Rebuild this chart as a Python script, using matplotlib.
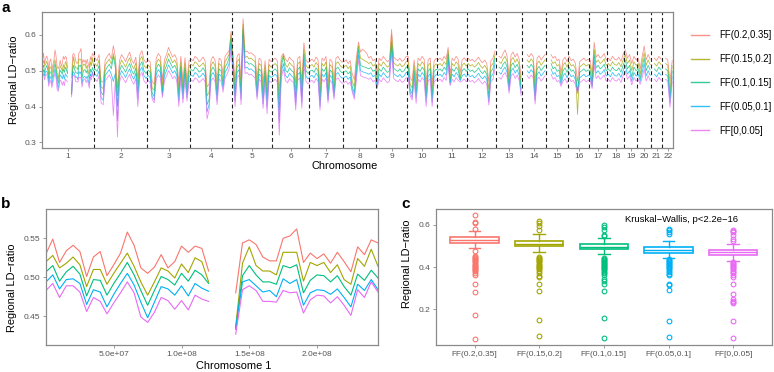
import numpy as np
import matplotlib.pyplot as plt

plt.rcParams['font.family'] = ['Liberation Sans', 'DejaVu Sans']
nan = np.nan

groups = ["FF(0.2,0.35]", "FF(0.15,0.2]", "FF(0.1,0.15]", "FF(0.05,0.1]", "FF[0,0.05]"]
colors = ["#F8766D", "#A3A500", "#00BF7D", "#00B0F6", "#E76BF3"]

# chromosome 1, 5 Mb windows (nan = centromere gap)
chr1_pos = np.arange(0, 246e6, 5e6)
chr1_red = [.530, .549, .519, .534, .541, .533, .501, .526, .533, .502, .516, .531, .558, .541, .512, .505, .513, .529, .512, .520, .540, .532, .540, .537, .508,
            nan, nan, nan,
            .480, .544, .548, .542, .526, .521, .521, .550, .553, .562, .519, .531, .524, .530, .518, .532, .520, .507, .539, .529, .548, .544]
chr1_olive = [.520, .528, .512, .518, .526, .516, .488, .510, .510, .491, .505, .518, .531, .514, .494, .477, .494, .512, .508, .499, .517, .506, .525, .520, .494,
              nan, nan, nan,
              .437, .518, .539, .515, .508, .508, .503, .532, .532, .532, .495, .519, .515, .519, .506, .516, .497, .491, .524, .514, .536, .514]
chr1_green = [.507, .515, .495, .507, .514, .504, .476, .497, .496, .477, .492, .505, .519, .503, .483, .464, .483, .501, .497, .490, .505, .495, .509, .503, .492,
              nan, nan, nan,
              .435, .502, .515, .503, .494, .494, .491, .515, .512, .516, .480, .496, .503, .502, .494, .502, .488, .477, .504, .496, .509, .499]
chr1_blue = [.494, .503, .485, .497, .498, .492, .465, .484, .481, .462, .478, .492, .505, .490, .468, .448, .468, .488, .485, .477, .489, .476, .492, .486, .482,
             nan, nan, nan,
             .433, .494, .497, .489, .481, .483, .475, .498, .492, .497, .464, .480, .484, .483, .478, .485, .474, .462, .491, .483, .497, .484]
chr1_purple = [.483, .492, .474, .489, .489, .481, .456, .474, .469, .453, .467, .480, .494, .480, .449, .442, .455, .474, .470, .459, .470, .458, .477, .472, .469,
               nan, nan, nan,
               .427, .484, .489, .483, .469, .469, .468, .483, .480, .481, .454, .471, .477, .476, .467, .475, .464, .451, .484, .474, .494, .481]

# genome-wide panel: chromosomes 2-22 (coarser windows)
chrom_span = [239, 244, 198, 193, 184, 170, 156, 152, 143, 138, 138, 133, 120, 110, 101, 97, 83, 78, 60, 64, 51, 51]
chrom_n = [50, 26, 21, 21, 20, 18, 17, 16, 15, 15, 15, 14, 13, 12, 11, 10, 9, 8, 6, 7, 5, 5]

rest_red = [
    .535, .528, .545, .470, .468, .530, .540, .548, .532, .570, .538, .452, .528, .545, .536, .525, .540, .552, .530, .520, .538, .478, .545, .556, .530, .522,
    .530, .525, .470, .462, .535, .548, .540, .475, .530, .545, .565, .550, .538, .545, .532, .468, .540, .470, .536, .472, .528,
    .532, .528, .540, .535, .525, .530, .538, .527, .455, .462, .530, .540, .528, .470, .535, .530, .490, .540, .548, .555, .610,
    .545, .470, .540, .548, .475, .645, .552, .555, .548, .550, .545, .540, .478, .535, .530, .465, .528, .460, .532, .525,
    .530, .535, .528, .445, .540, .548, .532, .525, .538, .530, .526, .465, .534, .540, .470, .578, .530, .522,
    .528, .532, .525, .538, .530, .462, .535, .528, .540, .470, .532, .526, .475, .535, .540, .530, .524,
    .525, .530, .520, .528, .490, .475, .538, .580, .552, .560, .555, .548, .535, .540, .528, .532,
    .490, .535, .528, .540, .532, .525, .530, .615, .538, .532, .528, .535, .526, .530, .540,
    .540, .480, .472, .530, .478, .535, .528, .540, .532, .468, .530, .536, .465, .528, .534,
    .530, .535, .528, .540, .532, .565, .490, .535, .528, .540, .532, .495, .530, .536, .528,
    .535, .528, .532, .525, .530, .538, .528, .522, .530, .520, .470, .528, .535, .555,
    nan, .540, .535, .548, .558, .540, .485, .545, .552, .538, .548, .532, .480,
    nan, nan, .545, .538, .548, .540, .470, .535, .542, .530, .538, .545,
    nan, nan, .545, .535, .540, .528, .532, .495, .530, .538, .525,
    .540, .528, .532, .520, .470, .525, .530, .535, .528, .532,
    .530, .490, .579, .538, .545, .535, .540, .548, .530,
    .535, .528, .540, .532, .530, .538, .526, .545,
    .558, .535, .545, .520, .540, .530,
    .535, .505, .540, .569, .530, .545, .532,
    nan, .535, .528, .540, .532,
    nan, .535, .530, .470, .528]
rest_olive = [
    .520, .512, .530, .455, .450, .515, .525, .532, .518, .548, .522, .430, .512, .530, .520, .510, .525, .536, .515, .505, .522, .460, .530, .540, .515, .507,
    .516, .510, .452, .445, .520, .532, .525, .458, .515, .530, .548, .535, .522, .530, .517, .450, .524, .452, .520, .455, .513,
    .518, .514, .525, .520, .511, .515, .522, .512, .430, .440, .515, .525, .513, .450, .520, .515, .472, .525, .535, .545, .600,
    .530, .450, .525, .533, .455, .630, .537, .540, .533, .535, .530, .525, .458, .520, .515, .445, .513, .440, .517, .510,
    .515, .520, .513, .420, .525, .545, .517, .510, .523, .515, .511, .445, .519, .525, .450, .560, .515, .507,
    .514, .517, .510, .523, .515, .440, .520, .513, .525, .450, .517, .511, .455, .520, .525, .515, .509,
    .511, .515, .506, .513, .470, .455, .522, .570, .535, .532, .528, .525, .520, .524, .513, .517,
    .475, .520, .513, .525, .517, .510, .515, .600, .522, .517, .513, .520, .511, .515, .525,
    .525, .462, .452, .515, .458, .520, .513, .525, .517, .448, .515, .521, .445, .513, .519,
    .516, .520, .513, .525, .517, .555, .475, .520, .513, .525, .517, .480, .515, .521, .513,
    .520, .513, .517, .510, .515, .523, .513, .507, .515, .505, .448, .513, .520, .545,
    nan, .525, .520, .533, .540, .525, .468, .530, .537, .523, .533, .517, .462,
    nan, nan, .530, .523, .533, .525, .450, .520, .527, .515, .523, .530,
    nan, nan, .530, .520, .525, .513, .517, .480, .515, .523, .510,
    .525, .513, .517, .505, .378, .510, .515, .520, .513, .517,
    .515, .470, .560, .523, .530, .520, .525, .533, .515,
    .520, .513, .525, .517, .515, .523, .511, .530,
    .545, .520, .530, .500, .525, .515,
    .520, .490, .525, .550, .515, .530, .517,
    nan, .520, .513, .525, .517,
    nan, .520, .515, .445, .513]
rest_green = [
    .505, .498, .515, .440, .432, .500, .510, .518, .505, .540, .508, .400, .498, .515, .506, .496, .510, .520, .500, .490, .508, .440, .515, .525, .500, .492,
    .502, .496, .438, .428, .505, .518, .510, .442, .500, .515, .532, .520, .508, .515, .502, .432, .510, .436, .506, .438, .498,
    .503, .499, .510, .505, .496, .500, .508, .498, .405, .420, .500, .510, .498, .432, .505, .500, .460, .510, .520, .535, .590,
    .516, .430, .510, .518, .435, .615, .522, .525, .518, .520, .515, .510, .440, .505, .500, .425, .498, .420, .502, .496,
    .500, .505, .498, .390, .510, .540, .502, .495, .508, .500, .496, .425, .504, .510, .430, .545, .500, .492,
    .499, .502, .495, .508, .500, .415, .505, .498, .510, .430, .502, .496, .438, .505, .510, .500, .494,
    .496, .500, .491, .498, .455, .438, .506, .560, .515, .512, .510, .508, .505, .509, .498, .502,
    .462, .505, .498, .510, .502, .495, .500, .580, .507, .502, .498, .505, .496, .500, .510,
    .510, .448, .436, .500, .440, .505, .498, .510, .502, .430, .500, .506, .428, .498, .504,
    .501, .505, .498, .510, .502, .545, .468, .505, .498, .510, .502, .475, .500, .506, .498,
    .505, .498, .502, .495, .500, .508, .498, .492, .500, .490, .428, .498, .505, .535,
    nan, .510, .505, .518, .525, .510, .455, .515, .522, .508, .518, .502, .448,
    nan, nan, .515, .508, .518, .510, .430, .505, .512, .500, .508, .515,
    nan, nan, .520, .505, .510, .498, .502, .470, .500, .508, .495,
    .510, .498, .502, .490, .445, .495, .500, .505, .498, .502,
    .500, .460, .545, .508, .515, .505, .510, .518, .500,
    .505, .498, .510, .502, .500, .508, .496, .515,
    .530, .505, .515, .482, .510, .500,
    .505, .478, .510, .535, .500, .515, .502,
    nan, .505, .498, .510, .502,
    nan, .505, .500, .425, .498]
rest_blue = [
    .490, .484, .500, .425, .418, .486, .495, .503, .490, .470, .493, .360, .483, .500, .491, .481, .495, .505, .486, .476, .493, .420, .500, .510, .486, .478,
    .487, .481, .428, .418, .490, .503, .495, .432, .486, .500, .516, .505, .493, .500, .487, .415, .495, .422, .491, .425, .484,
    .488, .484, .495, .490, .481, .486, .493, .483, .385, .405, .486, .495, .483, .418, .490, .486, .450, .495, .505, .520, .575,
    .501, .415, .495, .503, .420, .600, .507, .510, .503, .505, .500, .495, .428, .490, .485, .408, .483, .400, .487, .481,
    .485, .490, .483, .355, .495, .520, .487, .480, .493, .485, .481, .405, .489, .495, .412, .530, .485, .477,
    .484, .487, .480, .493, .485, .400, .490, .483, .495, .418, .487, .481, .428, .490, .495, .485, .479,
    .481, .485, .476, .483, .445, .428, .490, .545, .500, .497, .495, .493, .490, .494, .483, .487,
    .455, .490, .483, .495, .487, .480, .485, .565, .492, .487, .483, .490, .481, .485, .495,
    .495, .440, .425, .485, .425, .490, .483, .495, .487, .415, .485, .491, .412, .483, .489,
    .486, .490, .483, .495, .487, .530, .463, .490, .483, .495, .487, .472, .485, .491, .483,
    .490, .483, .487, .480, .485, .493, .483, .477, .485, .475, .414, .483, .490, .520,
    nan, .495, .490, .503, .510, .495, .445, .500, .507, .493, .503, .487, .438,
    nan, nan, .500, .493, .503, .495, .418, .490, .497, .485, .493, .500,
    nan, nan, .505, .490, .495, .483, .487, .462, .485, .493, .480,
    .495, .483, .487, .475, .440, .480, .485, .490, .483, .487,
    .485, .455, .530, .493, .500, .490, .495, .503, .485,
    .490, .483, .495, .487, .485, .493, .481, .500,
    .515, .490, .500, .470, .495, .485,
    .490, .470, .495, .520, .485, .500, .487,
    nan, .490, .483, .495, .487,
    nan, .490, .485, .410, .483]
rest_purple = [
    .476, .470, .486, .410, .405, .472, .480, .488, .476, .375, .478, .315, .468, .486, .476, .466, .480, .490, .472, .462, .478, .400, .486, .495, .472, .464,
    .473, .467, .420, .410, .476, .488, .480, .425, .472, .485, .500, .490, .478, .485, .472, .400, .480, .410, .476, .415, .470,
    .474, .470, .480, .476, .467, .472, .478, .469, .365, .390, .472, .480, .469, .405, .476, .472, .440, .480, .490, .505, .560,
    .487, .400, .480, .488, .405, .590, .492, .495, .488, .490, .485, .480, .420, .476, .470, .395, .468, .380, .472, .467,
    .471, .476, .469, .320, .480, .505, .473, .466, .478, .471, .467, .390, .474, .480, .395, .515, .471, .463,
    .470, .473, .466, .478, .471, .390, .476, .469, .480, .410, .473, .467, .420, .476, .480, .471, .465,
    .467, .471, .462, .469, .440, .420, .476, .530, .486, .483, .481, .479, .476, .480, .469, .473,
    .450, .476, .469, .480, .473, .466, .471, .550, .478, .473, .469, .476, .467, .471, .480,
    .481, .430, .418, .471, .409, .476, .469, .481, .473, .400, .471, .477, .400, .469, .475,
    .472, .476, .469, .481, .473, .515, .458, .476, .469, .481, .473, .468, .471, .477, .469,
    .476, .469, .473, .466, .471, .478, .469, .463, .471, .461, .404, .469, .476, .505,
    nan, .481, .476, .488, .495, .481, .437, .486, .492, .478, .488, .473, .430,
    nan, nan, .486, .478, .488, .481, .407, .476, .482, .471, .478, .486,
    nan, nan, .490, .476, .481, .469, .473, .456, .471, .478, .466,
    .481, .469, .473, .461, .436, .466, .471, .476, .469, .473,
    .471, .450, .515, .478, .486, .476, .481, .488, .471,
    .476, .469, .481, .473, .471, .478, .467, .486,
    .500, .476, .486, .460, .481, .471,
    .476, .462, .481, .505, .471, .486, .473,
    nan, .476, .469, .481, .473,
    nan, .476, .471, .398, .469]

# panel c box statistics
box_q1 = [0.515, 0.498, 0.484, 0.468, 0.459]
box_med = [0.529, 0.511, 0.496, 0.482, 0.471]
box_q3 = [0.543, 0.523, 0.511, 0.495, 0.482]
whisk_lo = [0.492, 0.474, 0.460, 0.445, 0.429]
whisk_hi = [0.573, 0.558, 0.539, 0.523, 0.511]
outliers = [
    [0.647, 0.615, 0.611, 0.581, 0.478, 0.452, 0.447, 0.442, 0.437, 0.432, 0.427, 0.422, 0.417, 0.412, 0.407,
     0.402, 0.397, 0.392, 0.387, 0.380, 0.372, 0.365, 0.318, 0.280, 0.173, 0.059],
    [0.620, 0.609, 0.597, 0.576, 0.447, 0.442, 0.437, 0.432, 0.427, 0.422, 0.417, 0.412, 0.407, 0.402, 0.397,
     0.390, 0.380, 0.370, 0.360, 0.353, 0.319, 0.286, 0.150, 0.074],
    [0.600, 0.589, 0.578, 0.553, 0.546, 0.445, 0.440, 0.435, 0.430, 0.425, 0.420, 0.415, 0.410, 0.405, 0.400,
     0.395, 0.390, 0.385, 0.378, 0.370, 0.361, 0.346, 0.333, 0.318, 0.286, 0.158, 0.063],
    [0.581, 0.574, 0.568, 0.558, 0.440, 0.435, 0.430, 0.425, 0.420, 0.415, 0.410, 0.405, 0.400, 0.395, 0.390,
     0.383, 0.375, 0.368, 0.361, 0.322, 0.313, 0.291, 0.146, 0.068],
    [0.576, 0.570, 0.565, 0.553, 0.531, 0.523, 0.424, 0.419, 0.414, 0.409, 0.404, 0.399, 0.394, 0.389, 0.384,
     0.378, 0.370, 0.362, 0.353, 0.322, 0.275, 0.247, 0.240, 0.233, 0.228, 0.146, 0.066],
]

chr1_series = [chr1_red, chr1_olive, chr1_green, chr1_blue, chr1_purple]
rest_series = [rest_red, rest_olive, rest_green, rest_blue, rest_purple]

SPINE = '#8a8a8a'
TICKC = '#555555'
W, H = 774, 372


def style(ax):
    for s in ax.spines.values():
        s.set_color(SPINE)
        s.set_linewidth(0.9)
    ax.tick_params(direction='out', length=2.5, width=0.6, color=SPINE,
                   labelcolor=TICKC, labelsize=6.0, pad=1.5)


fig = plt.figure(figsize=(W / 100, H / 100), dpi=100)

def px_axes(l, t, r, b):
    return fig.add_axes([l / W, 1 - b / H, (r - l) / W, (b - t) / H])

# ---- panel a
axa = px_axes(42, 12.3, 673.3, 147.7)
starts = np.concatenate([[0], np.cumsum(chrom_span)[:-1]])
xa = np.concatenate([s + (np.arange(n) + 0.5) * L / n for s, L, n in zip(starts, chrom_span, chrom_n)])
for lab, col, c1, rest in zip(groups, colors, chr1_series, rest_series):
    ya = np.concatenate([c1, rest])
    axa.plot(xa, ya, color=col, lw=0.55, alpha=0.8, label=lab)
for b in np.cumsum(chrom_span)[:-1]:
    axa.axvline(b, color='#222222', lw=0.8, ls=(0, (3.5, 2.5)))
axa.set_xlim(0, sum(chrom_span))
axa.set_ylim(0.285, 0.663)
axa.set_xticks(starts + np.array(chrom_span) / 2)
axa.set_xticklabels([str(i) for i in range(1, 23)])
axa.set_yticks([0.3, 0.4, 0.5, 0.6])
style(axa)
axa.set_xlabel('Chromosome', fontsize=7.9)
axa.xaxis.set_label_coords(0.48, -0.098)
axa.set_ylabel('Regional LD\u2212ratio', fontsize=7.9)
axa.yaxis.set_label_coords(-0.037, 0.5)

leg = fig.legend(*axa.get_legend_handles_labels(), loc='upper left',
                 bbox_to_anchor=(691 / W, 1 - 30 / H), frameon=False, fontsize=6.9,
                 handlelength=1.9, handletextpad=1.0, labelspacing=1.45,
                 borderpad=0, borderaxespad=0)
for h in leg.get_lines():
    h.set_linewidth(1.0)

# ---- panel b
axb = px_axes(46, 209, 378, 345)
for lab, col, yv in zip(groups, colors, chr1_series):
    axb.plot(chr1_pos, yv, color=col, lw=0.8)
axb.set_xlim(0, 245e6)
axb.set_ylim(0.413, 0.5876)
axb.set_yticks([0.45, 0.50, 0.55])
axb.set_yticklabels(['0.45', '0.50', '0.55'])
axb.set_xticks([5e7, 1e8, 1.5e8, 2e8])
axb.set_xticklabels(['5.0e+07', '1.0e+08', '1.5e+08', '2.0e+08'])
style(axb)
axb.set_xlabel('Chromosome 1', fontsize=7.9)
axb.xaxis.set_label_coords(0.566, -0.115)
axb.set_ylabel('Regional LD\u2212ratio', fontsize=7.9)
axb.yaxis.set_label_coords(-0.087, 0.419)

# ---- panel c
axc = px_axes(435.7, 209.3, 772, 345)
stats = []
for i, lab in enumerate(groups):
    stats.append(dict(label=lab, q1=box_q1[i], med=box_med[i], q3=box_q3[i],
                      whislo=whisk_lo[i], whishi=whisk_hi[i], fliers=outliers[i]))
pos = np.arange(1, len(groups) + 1)
bp = axc.bxp(stats, positions=pos, widths=0.75, patch_artist=True, capwidths=0.18)
for i, col in enumerate(colors):
    bp['boxes'][i].set(facecolor='white', edgecolor=col, linewidth=1.2)
    bp['medians'][i].set(color=col, linewidth=1.0)
    for k in (2 * i, 2 * i + 1):
        bp['whiskers'][k].set(color=col, linewidth=1.0)
        bp['caps'][k].set(color=col, linewidth=1.0)
    bp['fliers'][i].set(marker='o', markerfacecolor='none', markeredgecolor=col,
                        markersize=3.4, markeredgewidth=0.8)
axc.set_xlim(0.4, 5.6)
axc.set_ylim(0.031, 0.674)
axc.set_yticks([0.2, 0.4, 0.6])
axc.set_xticks(pos)
axc.set_xticklabels(groups)
style(axc)
axc.set_ylabel('Regional LD\u2212ratio', fontsize=7.9)
axc.yaxis.set_label_coords(-0.069, 0.602)
axc.text(4.2, 0.6235, 'Kruskal\u2212Wallis, p<2.2e\u221216', ha='center', va='center', fontsize=6.8)

# panel tags
fig.text(1 / W, 1 - 1 / H, 'a', fontsize=11, fontweight='bold', va='top', ha='left')
fig.text(1 / W, 1 - 197 / H, 'b', fontsize=11, fontweight='bold', va='top', ha='left')
fig.text(401 / W, 1 - 197 / H, 'c', fontsize=11, fontweight='bold', va='top', ha='left')

fig.savefig('out.png', dpi=100)
